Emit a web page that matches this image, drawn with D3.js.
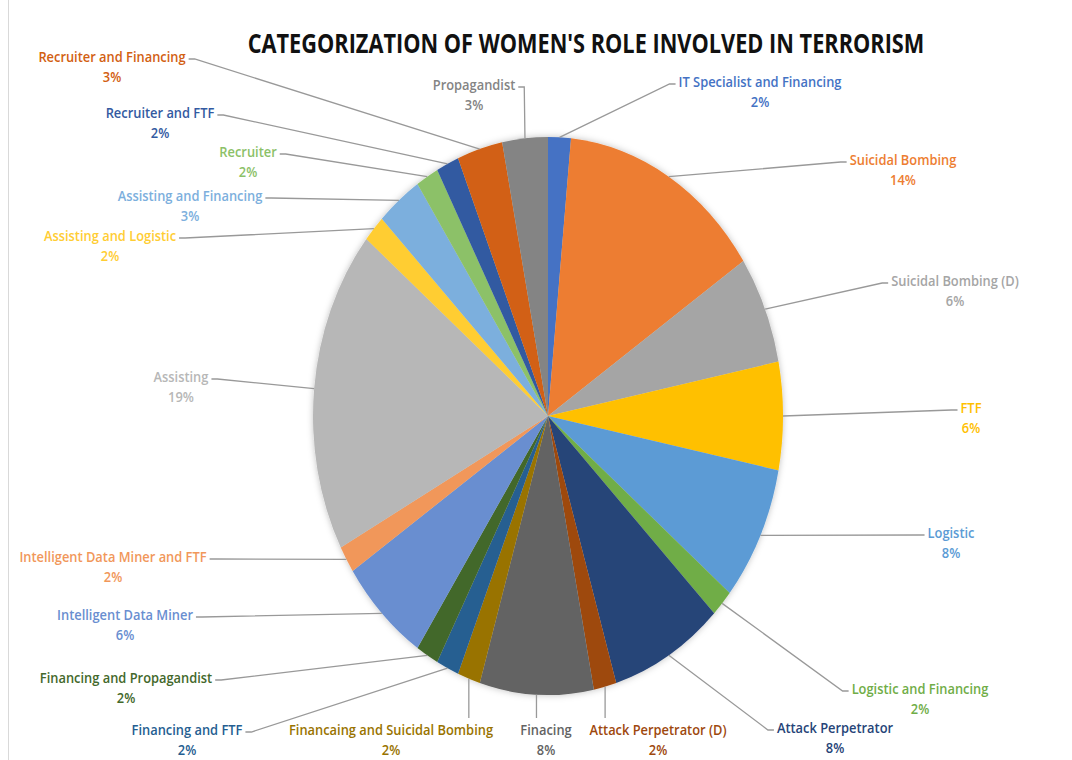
<!DOCTYPE html>
<html>
<head>
<meta charset="utf-8">
<script src="https://cdn.jsdelivr.net/npm/d3@7"></script>
<style>
  body { margin: 0; background: #fff; }
  svg { display: block; }
</style>
</head>
<body>
<script>
// roles, in clockwise order from 12 o'clock
var categories = ["IT Specialist and Financing", "Suicidal Bombing", "Suicidal Bombing (D)", "FTF",
    "Logistic", "Logistic and Financing", "Attack Perpetrator", "Attack Perpetrator (D)", "Finacing",
    "Financaing and Suicidal Bombing", "Financing and FTF", "Financing and Propagandist",
    "Intelligent Data Miner", "Intelligent Data Miner and FTF", "Assisting", "Assisting and Logistic",
    "Assisting and Financing", "Recruiter", "Recruiter and FTF", "Recruiter and Financing", "Propagandist"];

// number of cases in each role (64 in total)
var counts = [1, 9, 4, 4, 5, 1, 5, 1, 5, 1, 1, 1, 4, 1, 12, 1, 2, 1, 1, 2, 2];

var colors = ["#4472C4", "#ED7D31", "#A5A5A5", "#FFC000", "#5B9BD5", "#70AD47", "#264478", "#9E480E",
    "#636363", "#997300", "#255E91", "#43682B", "#698ED0", "#F1975A", "#B7B7B7", "#FFCD33",
    "#7CAFDD", "#8CC168", "#335AA1", "#D26012", "#848484"];

// where each data label sits, and which side its leader line joins
var labelPos = [[760, 82, "l"], [903, 160, "l"], [955, 281, "l"], [971, 408, "l"], [951, 533, "l"],
    [920, 689, "l"], [835, 728, "l"], [658, 730, "t"], [546, 730, "t"], [391, 730, "t"],
    [187, 730, "r"], [126, 678, "r"], [125, 615, "r"], [113, 557, "r"], [181, 377, "r"],
    [110, 236, "r"], [190, 196, "r"], [248, 152, "r"], [160, 113, "r"], [112, 57, "r"], [474, 85, "r"]];

function init(){
    var w = 1072, h = 760;
    var cx = 548, cy = 416;
    var rx = 235, ry = 279;   // the picture is squeezed, so the pie is an ellipse
    var kx = 0.92;            // narrow text

    var svg = d3.select("body").append("svg")
        .attr("width", w)
        .attr("height", h);

    var defs = svg.append("defs");
    var f = defs.append("filter").attr("id", "shadow")
        .attr("x", "-10%").attr("y", "-10%").attr("width", "120%").attr("height", "120%");
    f.append("feDropShadow").attr("dx", 0).attr("dy", 0).attr("stdDeviation", 3)
        .attr("flood-color", "#000").attr("flood-opacity", 0.25);

    // chart frame edge on the left
    svg.append("line")
        .attr("x1", 8.5).attr("x2", 8.5).attr("y1", 0).attr("y2", h)
        .attr("stroke", "#d9d9d9").attr("stroke-width", 1);

    // title, squeezed to the width it has in the picture
    var title = svg.append("text")
        .attr("text-anchor", "middle")
        .style("font-family", "'Open Sans', 'Noto Sans', sans-serif")
        .style("font-weight", "bold")
        .style("font-size", "27px")
        .style("fill", "#111")
        .text("CATEGORIZATION OF WOMEN'S ROLE INVOLVED IN TERRORISM");
    var tk = 677 / title.node().getComputedTextLength();
    title.attr("transform", "translate(586,53) scale(" + tk + ",1)");

    var total = d3.sum(counts);
    var pct = d3.format(".0%");

    var pie = d3.pie().sort(null).value(function(d){ return d; });
    var arcs = pie(counts);

    var arc = d3.arc().innerRadius(0).outerRadius(rx);

    var g = svg.append("g")
        .attr("transform", "translate(" + cx + "," + cy + ") scale(1," + (ry / rx) + ")")
        .attr("filter", "url(#shadow)");

    g.selectAll("path.slice")
        .data(arcs)
        .enter()
        .append("path")
        .attr("class", "slice")
        .attr("fill", function(d, i){ return colors[i]; })
        .attr("d", arc);

    // point on the rim at the middle of a slice
    function rimPoint(d){
        var a = (d.startAngle + d.endAngle) / 2;
        return [cx + rx * Math.sin(a), cy - ry * Math.cos(a)];
    }

    var leaders = svg.append("g");
    var labels = svg.append("g");

    arcs.forEach(function(d, i){
        var p = labelPos[i];
        var t = labels.append("text")
            .attr("transform", "translate(" + p[0] + "," + p[1] + ") scale(" + kx + ",1)")
            .attr("text-anchor", "middle")
            .style("font-family", "'Open Sans', 'Noto Sans', sans-serif")
            .style("font-weight", 600)
            .style("font-size", "14px")
            .style("fill", colors[i]);
        var l1 = t.append("tspan").attr("x", 0).attr("y", 5).text(categories[i]);
        t.append("tspan").attr("x", 0).attr("y", 25).text(pct(counts[i] / total));

        var half = l1.node().getComputedTextLength() * kx / 2;
        var rp = rimPoint(d);
        var pts;
        if (p[2] == "l") {
            var ex = p[0] - half - 3;
            pts = [rp, [ex - 6, p[1] + 2], [ex, p[1] + 2]];
        } else if (p[2] == "r") {
            var ex = p[0] + half + 3;
            pts = [rp, [ex + 6, p[1] + 2], [ex, p[1] + 2]];
        } else {
            pts = [rp, [rp[0], p[1] - 12]];
        }
        leaders.append("path")
            .attr("d", d3.line()(pts))
            .attr("fill", "none")
            .attr("stroke", "#999")
            .attr("stroke-width", 1.3);
    });
}
window.onload = init;
</script>
</body>
</html>
